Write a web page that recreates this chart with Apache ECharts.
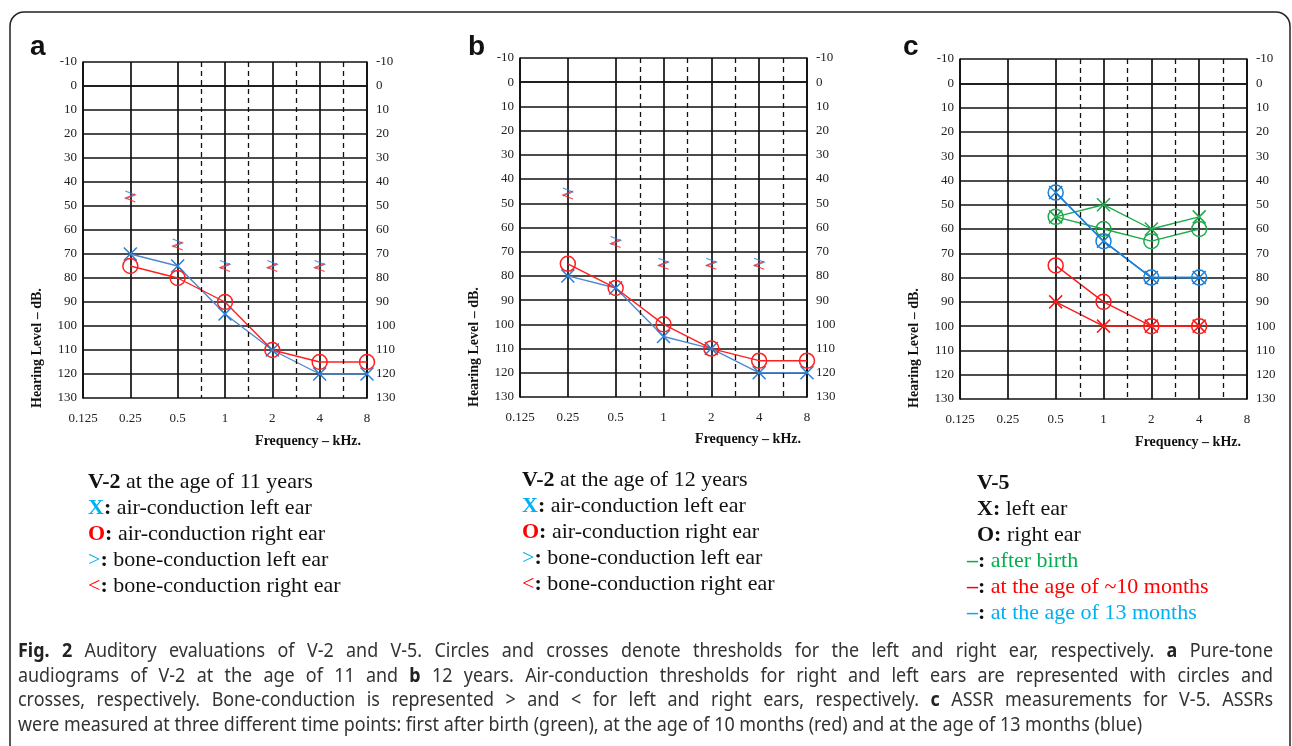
<!DOCTYPE html>
<html><head><meta charset="utf-8">
<script src="https://cdn.jsdelivr.net/npm/echarts@6/dist/echarts.min.js"></script>
<style>html,body{margin:0;padding:0;background:#fff}#c{width:1292px;height:746px}</style>
</head><body><div id="c"></div>
<script>
// ---------- data ----------
const freqLabels = ['0.125','0.25','0.5','1','2','4','8'];
const freqAB = [0.25, 0.5, 1, 2, 4, 8];
const freqBone = [0.25, 0.5, 1, 2, 4];
const freqC = [0.5, 1, 2, 4];

// panel a (V-2, 11 years)
const aAirLeft  = [70, 75, 95, 110, 120, 120];
const aAirRight = [75, 80, 90, 110, 115, 115];
const aBoneLeft  = [46, 66, 75, 75, 75];
const aBoneRight = [46, 66, 75, 75, 75];
// panel b (V-2, 12 years)
const bAirLeft  = [80, 85, 105, 110, 120, 120];
const bAirRight = [75, 85, 100, 110, 115, 115];
const bBoneLeft  = [46, 66, 75, 75, 75];
const bBoneRight = [46, 66, 75, 75, 75];
// panel c (V-5, ASSR)
const cBirthLeft   = [55, 50, 60, 55];
const cBirthRight  = [55, 60, 65, 60];
const c10mLeft     = [90, 100, 100, 100];
const c10mRight    = [75, 90, 100, 100];
const c13mLeft     = [45, 65, 80, 80];
const c13mRight    = [45, 65, 80, 80];

const legendA = [
  [['V-2','b'],[' at the age of 11 years','n']],
  [['X','bc'],[':','b'],[' air-conduction left ear','n']],
  [['O','br'],[':','b'],[' air-conduction right ear','n']],
  [['>','c'],[':','b'],[' bone-conduction left ear','n']],
  [['<','r'],[':','b'],[' bone-conduction right ear','n']]
];
const legendB = [
  [['V-2','b'],[' at the age of 12 years','n']],
  [['X','bc'],[':','b'],[' air-conduction left ear','n']],
  [['O','br'],[':','b'],[' air-conduction right ear','n']],
  [['>','c'],[':','b'],[' bone-conduction left ear','n']],
  [['<','r'],[':','b'],[' bone-conduction right ear','n']]
];
const legendC = [
  [['V-5','b']],
  [['X:','b'],[' left ear','n']],
  [['O:','b'],[' right ear','n']],
  [['–','bg'],[':','b'],[' after birth','g']],
  [['–','br'],[':','b'],[' at the age of ~10 months','r']],
  [['–','bc'],[':','b'],[' at the age of 13 months','c']]
];
const captionLines = [
  [['Fig. 2','b'],[' Auditory evaluations of V-2 and V-5. Circles and crosses denote thresholds for the left and right ear, respectively. ','n'],['a','b'],[' Pure-tone','n']],
  [['audiograms of V-2 at the age of 11 and ','n'],['b','b'],[' 12 years. Air-conduction thresholds for right and left ears are represented with circles and','n']],
  [['crosses, respectively. Bone-conduction is represented > and < for left and right ears, respectively. ','n'],['c','b'],[' ASSR measurements for V-5. ASSRs','n']],
  [['were measured at three different time points: first after birth (green), at the age of 10 months (red) and at the age of 13 months (blue)','n']]
];

// ---------- styles ----------
const BLUE_LINE = '#4f88cc', BLUE_MK = '#2a7fd6', RED = '#ff1f1f';
const GREEN = '#1eaa4c', RED_C = '#ff1a1a', BLUE_C = '#1b80d8';
const CYAN = '#00b0f0', LRED = '#ff0000', LGREEN = '#00b050';
const GRIDC = '#111';
const CROSS = 'path://M0,0L10,10M10,0L0,10';
const GT = 'path://M0,0L10,5L0,10';
const LT = 'path://M10,0L0,5L10,10';

const grids = [
  {left: 83, top: 62, width: 284, height: 336},
  {left: 520, top: 58, width: 287, height: 339},
  {left: 960, top: 59, width: 287, height: 340}
];
const lineSt = {color: GRIDC, width: 1.7};
const tickFont = {color: '#222', fontFamily: 'Liberation Serif', fontSize: 13};
function fmtFreq(v){ const l = freqLabels.find(s => Math.abs(+s - v) < 1e-6); return l !== undefined ? l : ''; }

const xAxis = grids.map((g, i) => ({
  type: 'log', logBase: 2, min: 0.125, max: 8, interval: 1, gridIndex: i,
  axisLine: {show: true, lineStyle: lineSt}, axisTick: {show: false},
  splitLine: {show: true, lineStyle: lineSt},
  axisLabel: Object.assign({margin: 14, formatter: fmtFreq}, tickFont)
}));
const yAxis = [];
grids.forEach((g, i) => {
  yAxis.push({type: 'value', gridIndex: i, inverse: true, min: -10, max: 130, interval: 10, position: 'left',
    axisLine: {show: true, lineStyle: lineSt}, axisTick: {show: false},
    splitLine: {show: true, lineStyle: lineSt},
    axisLabel: Object.assign({margin: 6}, tickFont)});
  yAxis.push({type: 'value', gridIndex: i, inverse: true, min: -10, max: 130, interval: 10, position: 'right',
    axisLine: {show: true, lineStyle: lineSt}, axisTick: {show: false}, splitLine: {show: false},
    axisLabel: Object.assign({margin: 9}, tickFont)});
});

const dashed = [0.5, 1, 2, 4].map(f => ({xAxis: f * Math.SQRT2}));
function pairs(fr, vals) { return fr.map((f, k) => [f, vals[k]]); }
function lineSeries(gi, fr, vals, lineColor, mkColor, kind, extra) {
  const s = {
    type: 'line', xAxisIndex: gi, yAxisIndex: gi * 2, data: pairs(fr, vals),
    symbol: kind === 'x' ? CROSS : 'circle', symbolSize: kind === 'x' ? 13 : 15,
    lineStyle: {color: lineColor, width: 1.4},
    itemStyle: {color: 'rgba(0,0,0,0)', borderColor: mkColor, borderWidth: 1.5},
    emphasis: {disabled: true}, silent: true, z: 3
  };
  return Object.assign(s, extra || {});
}
function boneSeries(gi, fr, vals, color, sym, off) {
  return {type: 'scatter', xAxisIndex: gi, yAxisIndex: gi * 2, data: pairs(fr, vals),
    symbol: sym, symbolSize: [10, 8], symbolOffset: off,
    itemStyle: {color: 'rgba(0,0,0,0)', borderColor: color, borderWidth: 1.2},
    emphasis: {disabled: true}, silent: true, z: 4};
}
const markL = {markLine: {silent: true, symbol: 'none', label: {show: false}, animation: false,
  lineStyle: {type: [5, 4], color: GRIDC, width: 1.3}, emphasis: {disabled: true}, data: dashed}};

const series = [
  lineSeries(0, freqAB, aAirLeft, BLUE_LINE, BLUE_MK, 'x', markL),
  lineSeries(0, freqAB, aAirRight, RED, RED, 'o'),
  boneSeries(0, freqBone, aBoneLeft, BLUE_MK, GT, [0, -1.5]),
  boneSeries(0, freqBone, aBoneRight, RED, LT, [0, 1.5]),
  lineSeries(1, freqAB, bAirLeft, BLUE_LINE, BLUE_MK, 'x', markL),
  lineSeries(1, freqAB, bAirRight, RED, RED, 'o'),
  boneSeries(1, freqBone, bBoneLeft, BLUE_MK, GT, [0, -1.5]),
  boneSeries(1, freqBone, bBoneRight, RED, LT, [0, 1.5]),
  lineSeries(2, freqC, cBirthLeft, GREEN, GREEN, 'x', markL),
  lineSeries(2, freqC, cBirthRight, GREEN, GREEN, 'o'),
  lineSeries(2, freqC, c10mLeft, RED_C, RED_C, 'x'),
  lineSeries(2, freqC, c10mRight, RED_C, RED_C, 'o'),
  lineSeries(2, freqC, c13mLeft, BLUE_C, BLUE_C, 'x'),
  lineSeries(2, freqC, c13mRight, BLUE_C, BLUE_C, 'o')
];

// ---------- graphics ----------
const SERIF = 'Liberation Serif', LS = 22;
const legendRich = {
  n: {fontFamily: SERIF, fontSize: LS, fill: '#111'},
  b: {fontFamily: SERIF, fontSize: LS, fill: '#111', fontWeight: 'bold'},
  bc: {fontFamily: SERIF, fontSize: LS, fill: CYAN, fontWeight: 'bold'},
  br: {fontFamily: SERIF, fontSize: LS, fill: LRED, fontWeight: 'bold'},
  bg: {fontFamily: SERIF, fontSize: LS, fill: LGREEN, fontWeight: 'bold'},
  c: {fontFamily: SERIF, fontSize: LS, fill: CYAN},
  r: {fontFamily: SERIF, fontSize: LS, fill: LRED},
  g: {fontFamily: SERIF, fontSize: LS, fill: LGREEN}
};
function richStr(segs) { return segs.map(s => '{' + s[1] + '|' + s[0] + '}').join(''); }
const graphic = [];
graphic.push({type: 'rect', shape: {x: 10, y: 12, width: 1280, height: 800, r: 14},
  style: {fill: 'none', stroke: '#222', lineWidth: 1.5}, silent: true});
[['a', 30], ['b', 468], ['c', 903]].forEach(p => graphic.push({type: 'text', x: p[1], y: 47,
  style: {text: p[0], font: 'bold 28px "Liberation Sans"', fill: '#111', textVerticalAlign: 'middle'}}));
[[361, 441], [801, 439], [1241, 442]].forEach(p => graphic.push({type: 'text', x: p[0], y: p[1],
  style: {text: 'Frequency – kHz.', font: 'bold 14px "Liberation Serif"', fill: '#111', textAlign: 'right', textVerticalAlign: 'middle'}}));
[[37, 408], [474, 407], [914, 408]].forEach(p => graphic.push({type: 'text', x: p[0], y: p[1], rotation: Math.PI / 2,
  style: {text: 'Hearing Level – dB.', font: 'bold 14px "Liberation Serif"', fill: '#111', textAlign: 'left', textVerticalAlign: 'middle'}}));

const legYA = [482, 508, 534, 560, 586], legYB = [480, 506, 532, 558, 584], legYC = [483, 509, 535, 561, 587, 613];
legendA.forEach((l, k) => graphic.push({type: 'text', x: 88, y: legYA[k], style: {text: richStr(l), rich: legendRich, textVerticalAlign: 'middle'}}));
legendB.forEach((l, k) => graphic.push({type: 'text', x: 522, y: legYB[k], style: {text: richStr(l), rich: legendRich, textVerticalAlign: 'middle'}}));
legendC.forEach((l, k) => graphic.push({type: 'text', x: k < 3 ? 977 : 967, y: legYC[k], style: {text: richStr(l), rich: legendRich, textVerticalAlign: 'middle'}}));

// caption: condensed, justified lines (word by word)
const CAP_FONT = 'Noto Sans', CAP_SIZE = 19;
const ctx = document.createElement('canvas').getContext('2d');
function capFont(st) { return (st === 'b' ? 'bold ' : '') + CAP_SIZE + 'px "' + CAP_FONT + '"'; }
function wWidth(t, st) { ctx.font = capFont(st); return ctx.measureText(t).width; }
function lineWords(segs) {
  const words = [];
  segs.forEach(s => s[0].split(' ').forEach(w => { if (w.length) words.push([w, s[1]]); }));
  return words;
}
const capY = [652, 676.5, 701, 725.5];
const capLeft = 18, capRight = 1273;
const lastWords = lineWords(captionLines[3]);
const spaceW = wWidth(' ', 'n');
const lastNat = lastWords.reduce((a, w) => a + wWidth(w[0], w[1]), 0) + spaceW * (lastWords.length - 1);
const sx = 1124 / lastNat;
captionLines.forEach((l, k) => {
  const words = lineWords(l);
  const ws = words.map(w => wWidth(w[0], w[1]) * sx);
  const sum = ws.reduce((a, b) => a + b, 0);
  const gap = k < 3 ? (capRight - capLeft - sum) / (words.length - 1) : spaceW * sx;
  let x = capLeft;
  words.forEach((w, j) => {
    graphic.push({type: 'text', x: x, y: capY[k], scaleX: sx,
      style: {text: w[0], font: capFont(w[1]), fill: w[1] === 'b' ? '#222' : '#333', textVerticalAlign: 'middle'}});
    x += ws[j] + gap;
  });
});

const chart = echarts.init(document.getElementById('c'));
chart.setOption({animation: false, grid: grids, xAxis: xAxis, yAxis: yAxis, series: series, graphic: graphic});
</script></body></html>
